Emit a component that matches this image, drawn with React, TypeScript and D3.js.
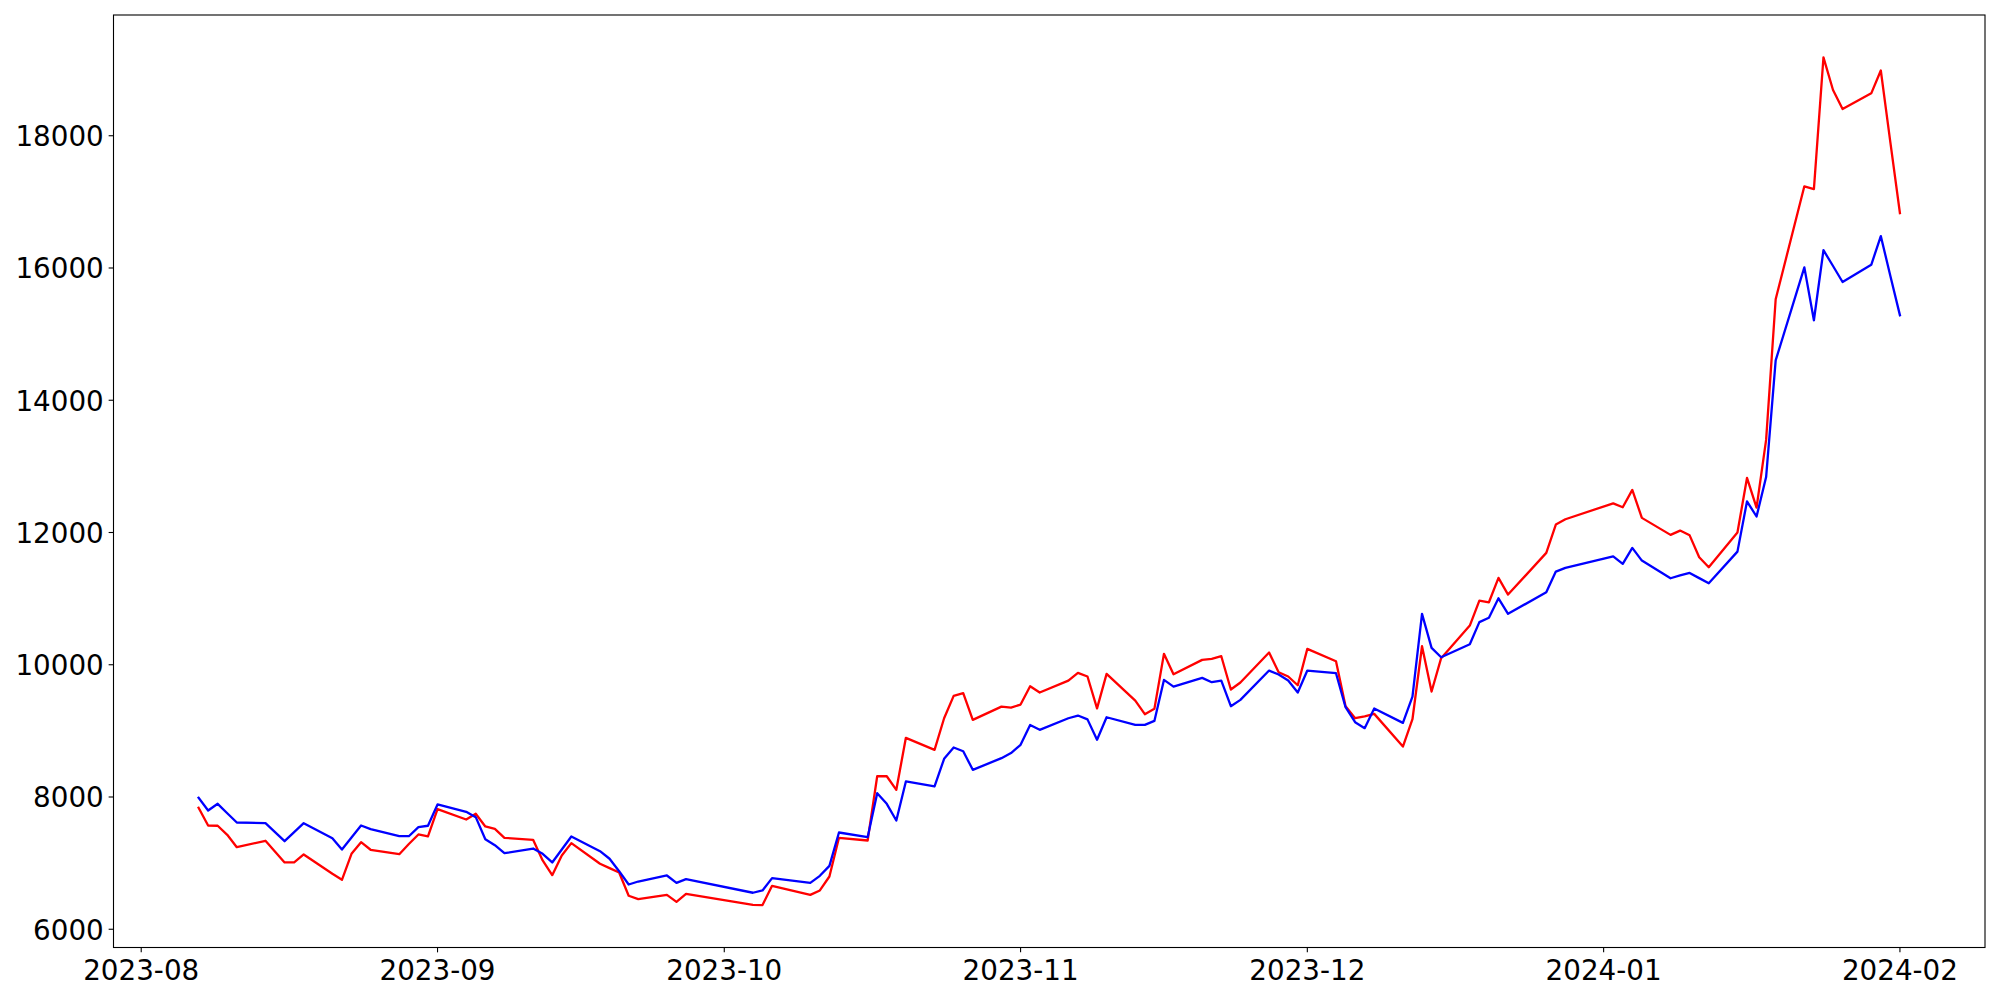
import React from 'react';
import * as d3 from 'd3';

const dates: string[] = [
  '2023-08-07','2023-08-08','2023-08-09','2023-08-10','2023-08-11','2023-08-14','2023-08-16','2023-08-17','2023-08-18',
  '2023-08-21','2023-08-22','2023-08-23','2023-08-24','2023-08-25','2023-08-28','2023-08-29','2023-08-30','2023-08-31',
  '2023-09-01','2023-09-04','2023-09-05','2023-09-06','2023-09-07','2023-09-08','2023-09-11','2023-09-12','2023-09-13',
  '2023-09-14','2023-09-15','2023-09-18','2023-09-19','2023-09-20','2023-09-21','2023-09-22','2023-09-25','2023-09-26',
  '2023-09-27','2023-10-04','2023-10-05','2023-10-06','2023-10-10','2023-10-11','2023-10-12','2023-10-13','2023-10-16',
  '2023-10-17','2023-10-18','2023-10-19','2023-10-20','2023-10-23','2023-10-24','2023-10-25','2023-10-26','2023-10-27',
  '2023-10-30','2023-10-31','2023-11-01','2023-11-02','2023-11-03','2023-11-06','2023-11-07','2023-11-08','2023-11-09',
  '2023-11-10','2023-11-13','2023-11-14','2023-11-15','2023-11-16','2023-11-17','2023-11-20','2023-11-21','2023-11-22',
  '2023-11-23','2023-11-24','2023-11-27','2023-11-28','2023-11-29','2023-11-30','2023-12-01','2023-12-04','2023-12-05',
  '2023-12-06','2023-12-07','2023-12-08','2023-12-11','2023-12-12','2023-12-13','2023-12-14','2023-12-15','2023-12-18',
  '2023-12-19','2023-12-20','2023-12-21','2023-12-22','2023-12-26','2023-12-27','2023-12-28','2024-01-02','2024-01-03',
  '2024-01-04','2024-01-05','2024-01-08','2024-01-09','2024-01-10','2024-01-11','2024-01-12','2024-01-15','2024-01-16',
  '2024-01-17','2024-01-18','2024-01-19','2024-01-22','2024-01-23','2024-01-24','2024-01-25','2024-01-26','2024-01-29',
  '2024-01-30','2024-01-31','2024-02-01',
];

const redValues: number[] = [
  7837, 7569, 7565, 7428, 7241, 7338, 7010, 7010, 7131,
  6840, 6748, 7141, 7317, 7202, 7135, 7290, 7433, 7403,
  7816, 7660, 7746, 7554, 7519, 7383, 7353, 7040, 6818,
  7116, 7302, 6990, 6924, 6858, 6507, 6455, 6520, 6415,
  6536, 6370, 6365, 6657, 6520, 6587, 6798, 7383, 7342,
  8314, 8314, 8109, 8895, 8713, 9191, 9530, 9570, 9166,
  9367, 9352, 9398, 9675, 9580, 9760, 9878, 9822, 9340,
  9862, 9458, 9252, 9333, 10165, 9857, 10074, 10089, 10129,
  9625, 9731, 10185, 9887, 9822, 9690, 10240, 10053, 9373,
  9191, 9220, 9257, 8763, 9176, 10280, 9595, 10100, 10593,
  10971, 10945, 11313, 11061, 11692, 12120, 12200, 12441, 12381,
  12644, 12221, 11964, 12029, 11957, 11625, 11474, 11999, 12825,
  12376, 13400, 15528, 17235, 17194, 19185, 18692, 18404, 18641,
  18987, 17900, 16830,
];

const blueValues: number[] = [
  7988, 7796, 7897, 7755, 7614, 7604, 7332, 7468, 7604,
  7377, 7206, 7388, 7569, 7514, 7407, 7407, 7544, 7565,
  7887, 7776, 7695, 7362, 7271, 7150, 7221, 7141, 7010,
  7206, 7403, 7181, 7066, 6878, 6677, 6722, 6813, 6702,
  6757, 6552, 6587, 6773, 6702, 6808, 6959, 7463, 7392,
  8058, 7897, 7645, 8235, 8159, 8578, 8748, 8692, 8411,
  8587, 8665, 8789, 9088, 9016, 9191, 9232, 9174, 8865,
  9206, 9091, 9091, 9151, 9771, 9670, 9801, 9736, 9761,
  9373, 9469, 9912, 9852, 9761, 9580, 9912, 9872, 9358,
  9131, 9041, 9338, 9121, 9519, 10770, 10255, 10114, 10311,
  10644, 10710, 11005, 10770, 11097, 11409, 11465, 11640, 11525,
  11767, 11575, 11308, 11350, 11389, 11310, 11232, 11711, 12470,
  12242, 12838, 14603, 16009, 15210, 16269, 16030, 15788, 16048,
  16482, 15880, 15285,
];

const xTickLabels: string[] = ['2023-08', '2023-09', '2023-10', '2023-11', '2023-12', '2024-01', '2024-02'];
const yTicks: number[] = [6000, 8000, 10000, 12000, 14000, 16000, 18000];

const W = 2000;
const H = 1000;
const plotLeft = 113.5;
const plotRight = 1985;
const plotTop = 15;
const plotBottom = 947.5;
const FONT = "'DejaVu Sans', sans-serif";
const FS = 27.78;

export default function App() {
  const parse = d3.utcParse('%Y-%m-%d');
  const parseMonth = d3.utcParse('%Y-%m');
  const xs = dates.map((d) => parse(d) as Date);

  const t0 = +xs[0];
  const t1 = +xs[xs.length - 1];
  const tPad = (t1 - t0) * 0.05;
  const x = d3.scaleUtc().domain([new Date(t0 - tPad), new Date(t1 + tPad)]).range([plotLeft, plotRight]);

  const all = [...redValues, ...blueValues];
  const vmin = d3.min(all) as number;
  const vmax = d3.max(all) as number;
  const vPad = (vmax - vmin) * 0.05;
  const y = d3.scaleLinear().domain([vmin - vPad, vmax + vPad]).range([plotBottom, plotTop]);

  const line = d3
    .line<number>()
    .x((_, i) => x(xs[i]))
    .y((v) => y(v));

  const tickLen = 4.86;
  const pad = 4.86;

  return (
    <svg
      width={W}
      height={H}
      viewBox={`0 0 ${W} ${H}`}
      style={{ position: 'absolute', left: 0, top: 0, background: '#ffffff' }}
    >
      <rect x={0} y={0} width={W} height={H} fill="#ffffff" />
      <defs>
        <clipPath id="plotClip">
          <rect x={plotLeft} y={plotTop} width={plotRight - plotLeft} height={plotBottom - plotTop} />
        </clipPath>
      </defs>
      <g clipPath="url(#plotClip)">
        <path d={line(redValues) || ''} fill="none" stroke="#ff0000" strokeWidth={2.3} strokeLinejoin="round" strokeLinecap="square" />
        <path d={line(blueValues) || ''} fill="none" stroke="#0000ff" strokeWidth={2.3} strokeLinejoin="round" strokeLinecap="square" />
      </g>
      <rect
        x={plotLeft}
        y={plotTop}
        width={plotRight - plotLeft}
        height={plotBottom - plotTop}
        fill="none"
        stroke="#000000"
        strokeWidth={1.1}
      />
      {yTicks.map((t) => (
        <g key={`y${t}`}>
          <line x1={plotLeft - tickLen} x2={plotLeft} y1={y(t)} y2={y(t)} stroke="#000" strokeWidth={1.1} />
          <text
            x={plotLeft - tickLen - pad}
            y={y(t) + 10.3}
            textAnchor="end"
            fontFamily={FONT}
            fontSize={FS}
            fill="#000"
          >
            {t}
          </text>
        </g>
      ))}
      {xTickLabels.map((lab) => {
        const px = x(parseMonth(lab) as Date);
        return (
          <g key={`x${lab}`}>
            <line x1={px} x2={px} y1={plotBottom} y2={plotBottom + tickLen} stroke="#000" strokeWidth={1.1} />
            <text
              x={px}
              y={plotBottom + 32}
              textAnchor="middle"
              fontFamily={FONT}
              fontSize={FS}
              fill="#000"
            >
              {lab}
            </text>
          </g>
        );
      })}
    </svg>
  );
}
